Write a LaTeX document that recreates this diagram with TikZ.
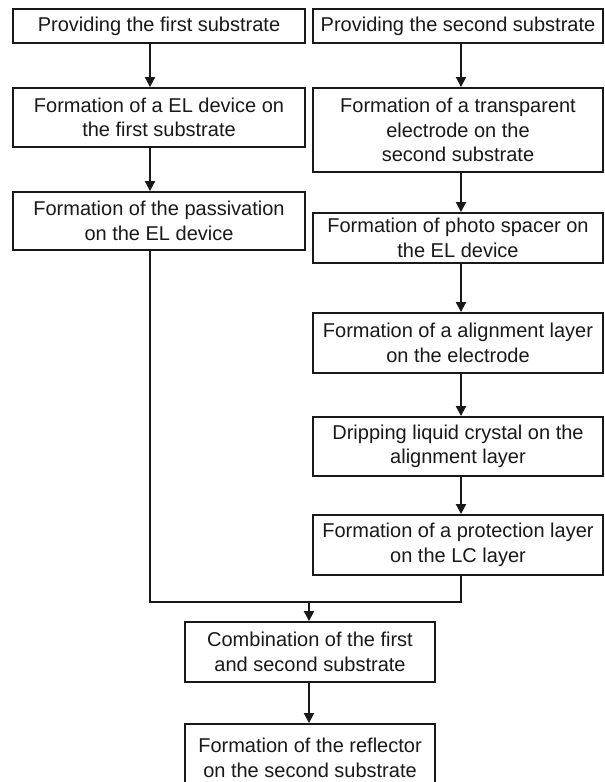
\documentclass[tikz,border=0pt]{standalone}
\usepackage{fontspec}
\setmainfont{Liberation Sans}
\usetikzlibrary{arrows.meta}
\begin{document}
\begin{tikzpicture}[x=1pt,y=-1pt,
  box/.style={draw=black!90, line width=1.9pt, rectangle, inner sep=1pt, align=center,
    font=\fontsize{20}{24.5}\selectfont, text=black!90},
  arr/.style={draw=black!90, line width=1.9pt, -{Triangle[length=10pt,width=10pt]}},
  ln/.style={draw=black!90, line width=1.9pt}]
\clip (0,0) rectangle (605,782);
\fill[white] (0,0) rectangle (605,782);
% left column
\node[box, minimum width=292, minimum height=34] (b1) at (159,26) {Providing the first substrate};
\node[box, minimum width=292, minimum height=59] (b2) at (159,117.5) {Formation of a EL device on\\the first substrate};
\node[box, minimum width=292, minimum height=58] (b3) at (159,221) {Formation of the passivation\\on the EL device};
% right column
\node[box, minimum width=290, minimum height=34] (b4) at (458,26) {Providing the second substrate};
\node[box, minimum width=290, minimum height=84] (b5) at (458,130) {Formation of a transparent\\electrode on the\\second substrate};
\node[box, minimum width=290, minimum height=50] (b6) at (458,238) {Formation of photo spacer on\\the EL device};
\node[box, minimum width=290, minimum height=60] (b7) at (458,343) {Formation of a alignment layer\\on the electrode};
\node[box, minimum width=290, minimum height=59] (b8) at (458,446.5) {Dripping liquid crystal on the\\alignment layer};
\node[box, minimum width=290, minimum height=60] (b9) at (458,545) {Formation of a protection layer\\on the LC layer};
% bottom
\node[box, minimum width=250, minimum height=60] (b10) at (310,652) {Combination of the first\\and second substrate};
\node[box, minimum width=250, minimum height=68] (b11) at (310,758) {Formation of the reflector\\on the second substrate};
% arrow axes
\coordinate (al) at (150,0);
\coordinate (ar) at (461,0);
\coordinate (m) at (309,602);
\draw[arr] (b1.south -| al) -- (b2.north -| al);
\draw[arr] (b2.south -| al) -- (b3.north -| al);
\draw[arr] (b4.south -| ar) -- (b5.north -| ar);
\draw[arr] (b5.south -| ar) -- (b6.north -| ar);
\draw[arr] (b6.south -| ar) -- (b7.north -| ar);
\draw[arr] (b7.south -| ar) -- (b8.north -| ar);
\draw[arr] (b8.south -| ar) -- (b9.north -| ar);
\draw[ln] (b3.south -| al) |- (m);
\draw[ln] (b9.south -| ar) |- (m);
\draw[arr] (m) -- (b10.north -| m);
\draw[arr] (b10.south -| m) -- (b11.north -| m);
\end{tikzpicture}
\end{document}
